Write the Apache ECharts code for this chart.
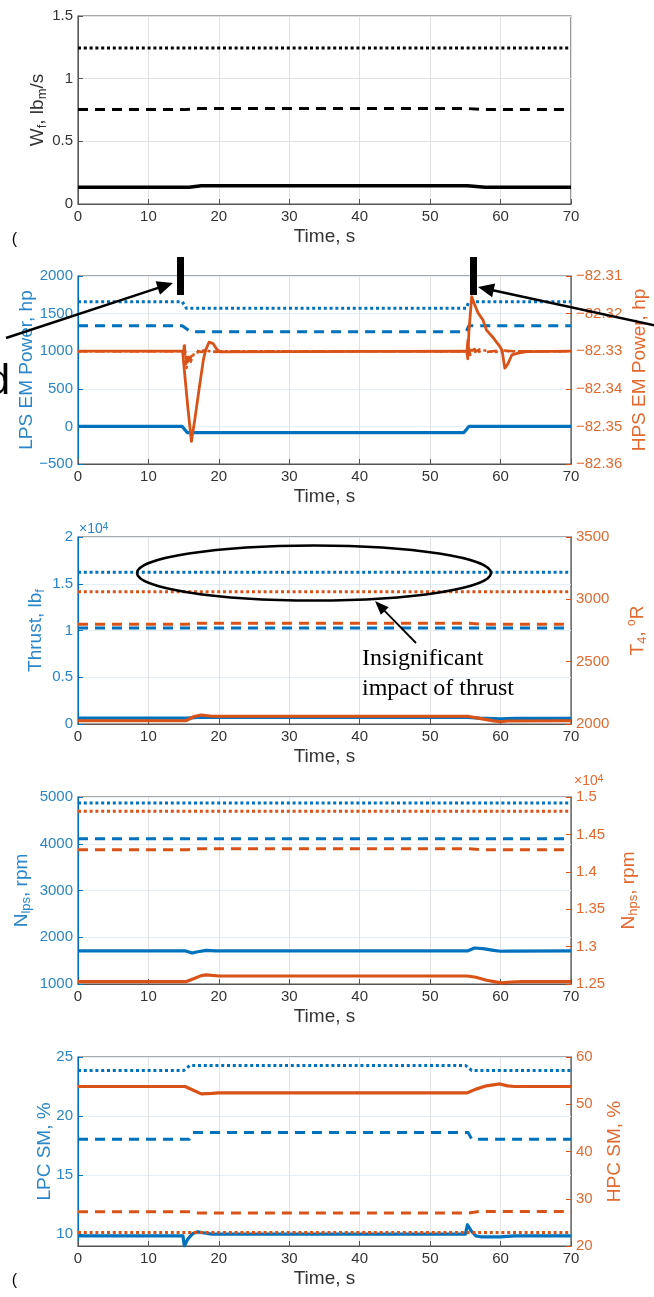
<!DOCTYPE html>
<html><head><meta charset="utf-8">
<script src="https://cdn.jsdelivr.net/npm/echarts@6/dist/echarts.min.js"></script>
<style>html,body{margin:0;padding:0;background:#fff}#c{width:654px;height:1297px}</style>
</head><body><div id="c"></div><script>
// ---------- tick values ----------
const X_TICKS = [0, 10, 20, 30, 40, 50, 60, 70];
const P1_Y_TICKS = [0, 0.5, 1, 1.5];
const P2_L_TICKS = [-500, 0, 500, 1000, 1500, 2000];
const P2_R_TICKS = [-82.36, -82.35, -82.34, -82.33, -82.32, -82.31];
const P3_L_TICKS = [0, 5000, 10000, 15000, 20000];
const P3_R_TICKS = [2000, 2500, 3000, 3500];
const P4_L_TICKS = [1000, 2000, 3000, 4000, 5000];
const P4_R_TICKS = [12500, 13000, 13500, 14000, 14500, 15000];
const P5_L_TICKS = [10, 15, 20, 25];
const P5_L_MIN = 9;
const P5_R_TICKS = [20, 30, 40, 50, 60];

// ---------- panel 1 : fuel flow ----------
const P1_T_DOT = [0, 70];
const P1_V_DOT = [1.245, 1.245];
const P1_T_DASH = [0, 15, 17, 55.5, 57.5, 70];
const P1_V_DASH = [0.753, 0.753, 0.761, 0.761, 0.753, 0.753];
const P1_T_SOLID = [0, 15.8, 17.5, 55.3, 57.8, 70];
const P1_V_SOLID = [0.133, 0.133, 0.146, 0.146, 0.133, 0.133];

// ---------- panel 2 : EM power ----------
const P2_T_LDOT = [0, 14.8, 15.4, 55.1, 55.5, 70];
const P2_V_LDOT = [1658, 1658, 1570, 1570, 1658, 1658];
const P2_T_LDASH = [0, 14.8, 16.0, 55.1, 55.5, 70];
const P2_V_LDASH = [1339, 1339, 1259, 1259, 1339, 1339];
const P2_T_LSOLID = [0, 14.8, 15.5, 54.8, 55.5, 70];
const P2_V_LSOLID = [0, 0, -82, -82, 0, 0];
const P2_T_RSOLID = [0, 14.85, 15.2, 15.6, 16.1, 16.6, 17.2, 17.8, 18.1, 18.6, 19.2, 19.7, 20.2, 55.2, 55.35, 55.5, 55.9, 56.3, 56.8, 57.5, 58.0, 59.0, 59.8, 60.2, 60.6, 61.0, 61.6, 62.5, 63.7, 70];
const P2_V_RSOLID = [-82.33, -82.33, -82.337, -82.345, -82.354, -82.348, -82.340, -82.3323, -82.3298, -82.3276, -82.328, -82.3295, -82.3302, -82.33, -82.332, -82.325, -82.3155, -82.3175, -82.3198, -82.3217, -82.3244, -82.3265, -82.3285, -82.3297, -82.3345, -82.3335, -82.331, -82.3305, -82.3301, -82.33];
const P2_T_RDASH = [0, 15.0, 15.1, 15.3, 15.5, 15.8, 16.2, 16.8, 17.5, 18.5, 19.5, 21, 55.2, 55.35, 55.6, 55.9, 56.4, 57.0, 58, 60, 62, 70];
const P2_V_RDASH = [-82.33, -82.33, -82.3275, -82.3335, -82.3305, -82.3325, -82.331, -82.3298, -82.3302, -82.3298, -82.3302, -82.33, -82.33, -82.327, -82.3305, -82.3285, -82.3302, -82.3295, -82.3302, -82.3298, -82.33, -82.33];
const P2_T_RDOT = [0, 15.0, 15.15, 15.4, 15.7, 16.0, 16.5, 17.2, 18.0, 19.0, 20.5, 55.2, 55.4, 55.7, 56.1, 56.7, 57.5, 59, 61, 70];
const P2_V_RDOT = [-82.33, -82.33, -82.3285, -82.3345, -82.3315, -82.3328, -82.3305, -82.3302, -82.3297, -82.3302, -82.33, -82.33, -82.3285, -82.331, -82.329, -82.3303, -82.3297, -82.3302, -82.33, -82.33];

// ---------- panel 3 : thrust / T4 ----------
const P3_T_LDOT = [0, 70];
const P3_V_LDOT = [16225, 16225];
const P3_T_LDASH = [0, 70];
const P3_V_LDASH = [10270, 10270];
const P3_T_LSOLID = [0, 15.5, 17, 55.3, 57, 60, 62, 70];
const P3_V_LSOLID = [620, 620, 700, 700, 620, 560, 600, 600];
const P3_T_RDOT = [0, 70];
const P3_V_RDOT = [3061, 3061];
const P3_T_RDASH = [0, 15.5, 17, 55.5, 57.5, 70];
const P3_V_RDASH = [2800, 2800, 2808, 2808, 2800, 2800];
const P3_T_RSOLID = [0, 15.3, 16.5, 17.5, 19, 55.3, 57, 59, 60, 61, 70];
const P3_V_RSOLID = [2026, 2026, 2060, 2072, 2062, 2062, 2045, 2025, 2018, 2024, 2026];

// ---------- panel 4 : shaft speeds ----------
const P4_T_LDOT = [0, 70];
const P4_V_LDOT = [4871, 4871];
const P4_T_LDASH = [0, 70];
const P4_V_LDASH = [4107, 4107];
const P4_T_LSOLID = [0, 15.3, 16.2, 17.0, 18.2, 19.5, 55.3, 56.3, 57.5, 59, 60, 61, 70];
const P4_V_LSOLID = [1707, 1707, 1662, 1690, 1718, 1707, 1707, 1770, 1755, 1720, 1700, 1703, 1707];
const P4_T_RDOT = [0, 70];
const P4_V_RDOT = [14808, 14808];
const P4_T_RDASH = [0, 15.5, 17, 55.5, 57.5, 70];
const P4_V_RDASH = [14295, 14295, 14308, 14308, 14295, 14295];
const P4_T_RSOLID = [0, 15.3, 16.5, 17.5, 18.2, 20, 55.3, 56.5, 58, 59.5, 60.2, 61.5, 63, 70];
const P4_V_RSOLID = [12531, 12531, 12575, 12612, 12621, 12607, 12607, 12590, 12550, 12525, 12515, 12527, 12531, 12531];

// ---------- panel 5 : surge margins ----------
const P5_T_LDOT = [0, 15.0, 15.9, 55.0, 55.9, 70];
const P5_V_LDOT = [23.86, 23.86, 24.29, 24.29, 23.86, 23.86];
const P5_T_LDASH = [0, 15.8, 16.3, 55.4, 55.9, 70];
const P5_V_LDASH = [18.04, 18.04, 18.6, 18.6, 18.04, 18.04];
const P5_T_LSOLID = [0, 14.9, 15.1, 15.6, 16.3, 17.0, 18.0, 19.0, 55.0, 55.3, 55.8, 56.5, 57.2, 60, 62, 70];
const P5_V_LSOLID = [9.86, 9.86, 9.0, 9.6, 10.05, 10.2, 10.1, 10.0, 10.0, 10.8, 10.3, 9.85, 9.78, 9.78, 9.86, 9.86];
const P5_T_RDOT = [0, 70];
const P5_V_RDOT = [22.84, 22.84];
const P5_T_RDASH = [0, 16, 17, 55.5, 57, 70];
const P5_V_RDASH = [27.23, 27.23, 27.0, 27.0, 27.3, 27.3];
const P5_T_RSOLID = [0, 15.2, 16.3, 17.5, 19, 20, 55.2, 56.5, 58, 59.9, 61, 62, 70];
const P5_V_RSOLID = [53.76, 53.76, 53.0, 52.2, 52.3, 52.4, 52.4, 53.2, 53.9, 54.3, 53.9, 53.76, 53.76];

// ---------- styling ----------
const FONT = "'Liberation Sans', Arial, sans-serif";
const BLUE = '#0072BD', ORANGE = '#D95319', BLACK = '#000000';
const BLUE_TXT = '#2a86c8', ORANGE_TXT = '#e26a30', GRAY_TXT = '#333333';
const FRAME = '#555555';
const DOT = [3, 2.8], DASH = [10, 7];
const GRIDS = [
  {top: 16, height: 188},
  {top: 276, height: 188},
  {top: 537, height: 187},
  {top: 797, height: 187},
  {top: 1057, height: 189}
];

function pairs(t, v) { return t.map((x, i) => [x, v[i]]); }
function rng(ticks) { return {min: ticks[0], max: ticks[ticks.length - 1], interval: ticks[1] - ticks[0]}; }
const minus = s => s.replace('-', '\u2212');
const plain = v => minus(String(parseFloat(v.toFixed(4))));

const subRich = {
  s: {fontSize: 13, lineHeight: 13, verticalAlign: 'bottom', fontFamily: FONT},
  p: {fontSize: 12, lineHeight: 12, verticalAlign: 'top', fontFamily: FONT}
};

function xAx(gi) {
  return Object.assign(rng(X_TICKS), {
    type: 'value', gridIndex: gi, name: 'Time, s', nameLocation: 'middle', nameGap: 23,
    nameMoveOverlap: false,
    nameTextStyle: {color: GRAY_TXT, fontSize: 19, fontFamily: FONT},
    axisLine: {show: true, onZero: false, lineStyle: {color: FRAME, width: 1}},
    axisTick: {show: true, inside: true, length: 5, lineStyle: {color: FRAME}},
    axisLabel: {color: GRAY_TXT, fontSize: 15, fontFamily: FONT, margin: 5, formatter: plain},
    splitLine: {show: true, lineStyle: {color: '#e2e2e2', width: 1}}
  });
}
function yAx(gi, ticks, side, color, txtColor, name, gap, extra) {
  const o = Object.assign(rng(ticks), {
    type: 'value', gridIndex: gi, position: side,
    name: name, nameLocation: 'middle', nameGap: gap, nameRotate: 90, nameMoveOverlap: false,
    nameTextStyle: {color: txtColor, fontSize: 19, fontFamily: FONT, rich: {
      n: {fontSize: 19, fontFamily: FONT, color: txtColor, lineHeight: 23},
      s: Object.assign({color: txtColor}, subRich.s), p: Object.assign({color: txtColor}, subRich.p)}},
    axisLine: {show: true, onZero: false, lineStyle: {color: color, width: 1}},
    axisTick: {show: true, inside: true, length: 5, lineStyle: {color: color}},
    axisLabel: {color: txtColor, fontSize: 15, fontFamily: FONT, margin: 5, formatter: plain},
    splitLine: {show: side === 'left', lineStyle: {color: '#e4eef7', width: 1}}
  });
  return Object.assign(o, extra || {});
}
function ser(xi, yi, t, v, color, type, width, z) {
  return {type: 'line', xAxisIndex: xi, yAxisIndex: yi, data: pairs(t, v), showSymbol: false, symbol: 'none',
    silent: true, animation: false, z: z || 2,
    lineStyle: {color: color, width: width || 3, type: type, cap: 'butt', join: 'round'}};
}
function arrow(x1, y1, x2, y2, w, hl, hw) {
  const dx = x2 - x1, dy = y2 - y1, L = Math.hypot(dx, dy), ux = dx / L, uy = dy / L;
  const bx = x2 - ux * hl, by = y2 - uy * hl, px = -uy, py = ux;
  return [
    {type: 'line', shape: {x1: x1, y1: y1, x2: bx + ux * 2, y2: by + uy * 2}, style: {stroke: '#000', lineWidth: w}, z: 100},
    {type: 'polygon', shape: {points: [[x2, y2], [bx + px * hw, by + py * hw], [bx - px * hw, by - py * hw]]}, style: {fill: '#000'}, z: 100}
  ];
}

const grids = GRIDS.map(g => ({left: 78, right: 83, top: g.top, height: g.height, show: true,
  borderColor: FRAME, borderWidth: 1.2, backgroundColor: 'transparent', containLabel: false, outerBoundsMode: 'none'}));

const xAxes = [0, 1, 2, 3, 4].map(xAx);
const fmt2 = v => minus(v.toFixed(2));
const fmtE4 = v => String(parseFloat((v / 10000).toFixed(4)));
const yAxes = [
  yAx(0, P1_Y_TICKS, 'left', FRAME, GRAY_TXT, '{n|W}{s|f}{n|, lb}{s|m}{n|/s}', 29, {
    splitLine: {show: true, lineStyle: {color: '#e2e2e2', width: 1}}}),
  yAx(1, P2_L_TICKS, 'left', BLUE, BLUE_TXT, 'LPS EM Power, hp', 42),
  yAx(1, P2_R_TICKS, 'right', ORANGE, ORANGE_TXT, 'HPS EM Power, hp', 59),
  yAx(2, P3_L_TICKS, 'left', BLUE, BLUE_TXT, '{n|Thrust, lb}{s|f}', 31),
  yAx(2, P3_R_TICKS, 'right', ORANGE, ORANGE_TXT, '{n|T}{s|4}{n|, }{p|o}{n|R}', 55),
  yAx(3, P4_L_TICKS, 'left', BLUE, BLUE_TXT, '{n|N}{s|lps}{n|, rpm}', 45),
  yAx(3, P4_R_TICKS, 'right', ORANGE, ORANGE_TXT, '{n|N}{s|hps}{n|, rpm}', 46),
  yAx(4, P5_L_TICKS, 'left', BLUE, BLUE_TXT, 'LPC SM, %', 24),
  yAx(4, P5_R_TICKS, 'right', ORANGE, ORANGE_TXT, 'HPC SM, %', 34)
];
yAxes[2].axisLabel.formatter = fmt2;
yAxes[3].axisLabel.formatter = fmtE4;
yAxes[6].axisLabel.formatter = fmtE4;
// panel 5 left axis: range starts below the first tick
yAxes[7].min = P5_L_MIN;
delete yAxes[7].interval;
yAxes[7].axisLabel.customValues = P5_L_TICKS;
yAxes[7].axisTick.customValues = P5_L_TICKS;

const series = [
  ser(0, 0, P1_T_DOT, P1_V_DOT, BLACK, DOT, 3),
  ser(0, 0, P1_T_DASH, P1_V_DASH, BLACK, DASH, 3),
  ser(0, 0, P1_T_SOLID, P1_V_SOLID, BLACK, 'solid', 3.5),

  ser(1, 1, P2_T_LDOT, P2_V_LDOT, BLUE, DOT, 3),
  ser(1, 1, P2_T_LDASH, P2_V_LDASH, BLUE, DASH, 3),
  ser(1, 1, P2_T_LSOLID, P2_V_LSOLID, BLUE, 'solid', 3.2),
  ser(1, 2, P2_T_RDOT, P2_V_RDOT, ORANGE, DOT, 2.5, 3),
  ser(1, 2, P2_T_RDASH, P2_V_RDASH, ORANGE, DASH, 2.5, 3),
  ser(1, 2, P2_T_RSOLID, P2_V_RSOLID, ORANGE, 'solid', 2.8, 4),

  ser(2, 3, P3_T_LDOT, P3_V_LDOT, BLUE, DOT, 3),
  ser(2, 3, P3_T_LDASH, P3_V_LDASH, BLUE, DASH, 3),
  ser(2, 3, P3_T_LSOLID, P3_V_LSOLID, BLUE, 'solid', 3.2),
  ser(2, 4, P3_T_RDOT, P3_V_RDOT, ORANGE, DOT, 3, 3),
  ser(2, 4, P3_T_RDASH, P3_V_RDASH, ORANGE, DASH, 3, 3),
  ser(2, 4, P3_T_RSOLID, P3_V_RSOLID, ORANGE, 'solid', 3.2, 3),

  ser(3, 5, P4_T_LDOT, P4_V_LDOT, BLUE, DOT, 3),
  ser(3, 5, P4_T_LDASH, P4_V_LDASH, BLUE, DASH, 3),
  ser(3, 5, P4_T_LSOLID, P4_V_LSOLID, BLUE, 'solid', 3.2),
  ser(3, 6, P4_T_RDOT, P4_V_RDOT, ORANGE, DOT, 3, 3),
  ser(3, 6, P4_T_RDASH, P4_V_RDASH, ORANGE, DASH, 3, 3),
  ser(3, 6, P4_T_RSOLID, P4_V_RSOLID, ORANGE, 'solid', 3.2, 3),

  ser(4, 7, P5_T_LDOT, P5_V_LDOT, BLUE, DOT, 3),
  ser(4, 7, P5_T_LDASH, P5_V_LDASH, BLUE, DASH, 3),
  ser(4, 7, P5_T_LSOLID, P5_V_LSOLID, BLUE, 'solid', 3.2),
  ser(4, 8, P5_T_RDOT, P5_V_RDOT, ORANGE, DOT, 3, 3),
  ser(4, 8, P5_T_RDASH, P5_V_RDASH, ORANGE, DASH, 3, 3),
  ser(4, 8, P5_T_RSOLID, P5_V_RSOLID, ORANGE, 'solid', 3.2, 3)
];

const graphic = [].concat(
  [
    {type: 'rect', shape: {x: 177, y: 257, width: 7, height: 38}, style: {fill: '#000'}, z: 100},
    {type: 'rect', shape: {x: 470, y: 257, width: 7, height: 38}, style: {fill: '#000'}, z: 100}
  ],
  arrow(6, 338, 173, 283, 2.5, 16, 7),
  arrow(662, 327, 478, 287, 2.5, 16, 7),
  arrow(416, 643, 375, 601, 1.8, 14, 5.5),
  [
    {type: 'ellipse', shape: {cx: 314, cy: 573, rx: 177, ry: 27.5}, style: {fill: 'none', stroke: '#000', lineWidth: 2.5}, z: 100},
    {type: 'text', x: 362, y: 659, style: {text: 'Insignificant', fill: '#000', font: "24px 'Liberation Serif', 'Times New Roman', serif", textAlign: 'left', textVerticalAlign: 'middle'}, z: 100},
    {type: 'text', x: 362, y: 689, style: {text: 'impact of thrust', fill: '#000', font: "24px 'Liberation Serif', 'Times New Roman', serif", textAlign: 'left', textVerticalAlign: 'middle'}, z: 100},
    {type: 'text', x: 10, y: 382, style: {text: 'd', fill: '#000', font: "42px 'Liberation Sans', Arial, sans-serif", textAlign: 'right', textVerticalAlign: 'middle'}, z: 100},
    {type: 'text', x: 17, y: 240, style: {text: '(', fill: '#000', font: "16px 'Liberation Sans', Arial, sans-serif", textAlign: 'right', textVerticalAlign: 'middle'}, z: 100},
    {type: 'text', x: 17, y: 1281, style: {text: '(', fill: '#000', font: "16px 'Liberation Sans', Arial, sans-serif", textAlign: 'right', textVerticalAlign: 'middle'}, z: 100},
    {type: 'text', x: 79, y: 529, style: {text: '×10{p|4}', rich: {p: {fontSize: 10, verticalAlign: 'top', lineHeight: 10, fill: BLUE_TXT}}, fill: BLUE_TXT, font: "14px 'Liberation Sans', Arial, sans-serif", textAlign: 'left', textVerticalAlign: 'middle'}, z: 100},
    {type: 'text', x: 574, y: 781, style: {text: '×10{p|4}', rich: {p: {fontSize: 10, verticalAlign: 'top', lineHeight: 10, fill: ORANGE_TXT}}, fill: ORANGE_TXT, font: "14px 'Liberation Sans', Arial, sans-serif", textAlign: 'left', textVerticalAlign: 'middle'}, z: 100}
  ]
);

const chart = echarts.init(document.getElementById('c'), null, {renderer: 'canvas'});
chart.setOption({
  animation: false,
  backgroundColor: '#ffffff',
  grid: grids,
  xAxis: xAxes,
  yAxis: yAxes,
  series: series,
  graphic: graphic
});
</script></body></html>
